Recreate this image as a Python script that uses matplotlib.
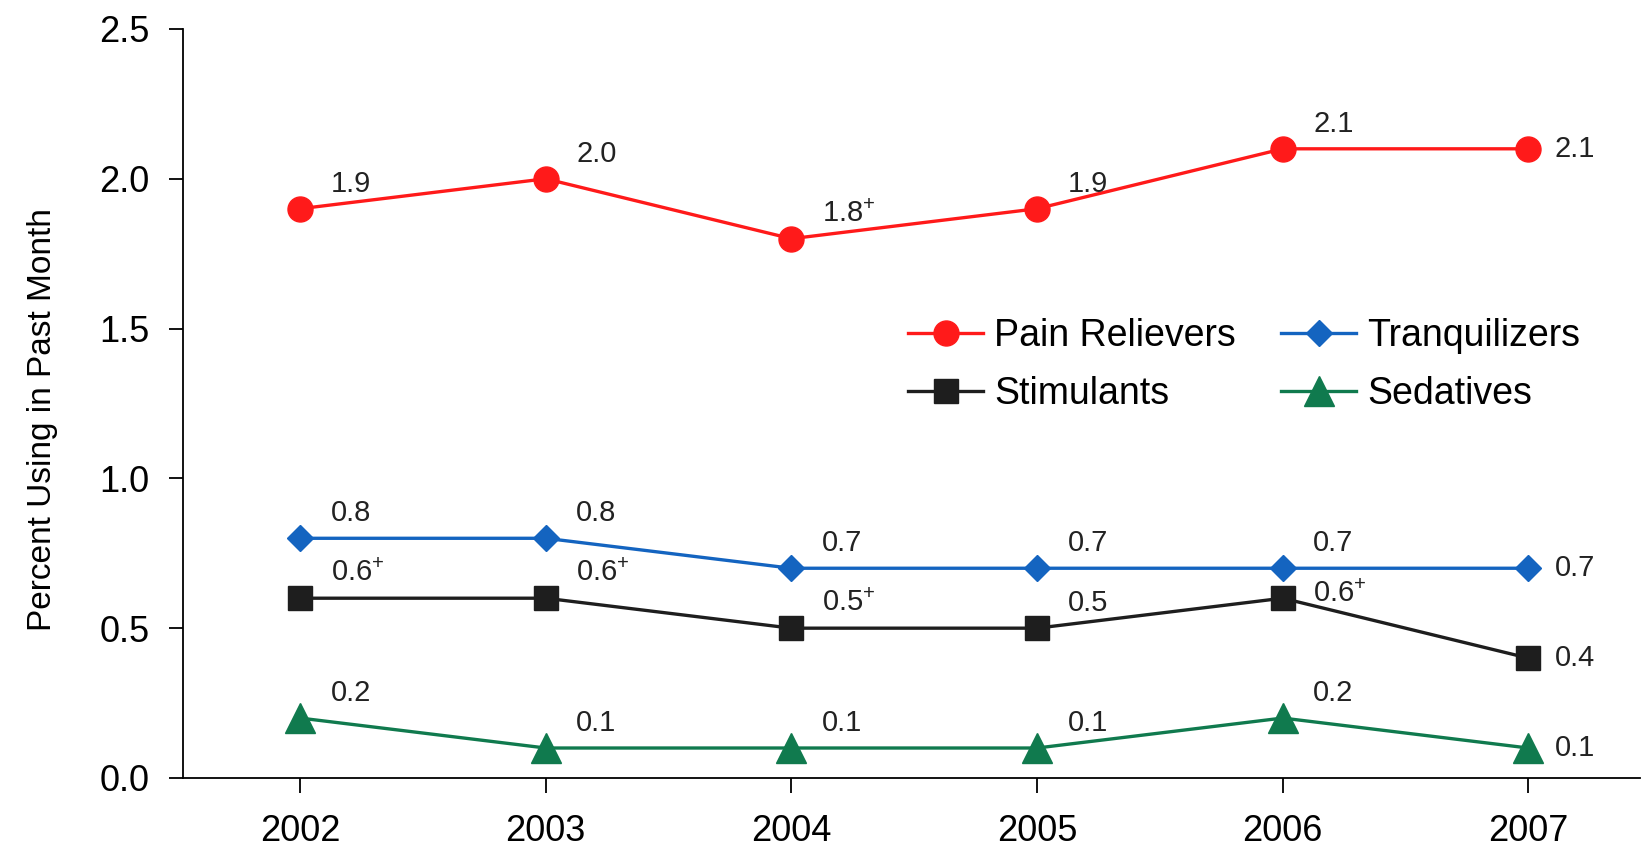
import matplotlib
matplotlib.use("Agg")
import matplotlib.pyplot as plt

plt.rcParams['font.family'] = ['Liberation Sans', 'DejaVu Sans']
plt.rcParams['mathtext.fontset'] = 'custom'
plt.rcParams['mathtext.rm'] = 'Liberation Sans'
plt.rcParams['mathtext.default'] = 'regular'

# data
years = [2002, 2003, 2004, 2005, 2006, 2007]
pain_relievers = [1.9, 2.0, 1.8, 1.9, 2.1, 2.1]
tranquilizers = [0.8, 0.8, 0.7, 0.7, 0.7, 0.7]
stimulants = [0.6, 0.6, 0.5, 0.5, 0.6, 0.4]
sedatives = [0.2, 0.1, 0.1, 0.1, 0.2, 0.1]

# "+" marks: difference from 2007 is significant
pain_sig = [False, False, True, False, False, False]
tranq_sig = [False, False, False, False, False, False]
stim_sig = [True, True, True, False, True, False]
sed_sig = [False, False, False, False, False, False]

series = [
    ("Pain Relievers", pain_relievers, pain_sig, "#ff1a1a", "o", 18),
    ("Stimulants", stimulants, stim_sig, "#1e1e1e", "s", 17),
    ("Tranquilizers", tranquilizers, tranq_sig, "#1464c0", "D", 13),
    ("Sedatives", sedatives, sed_sig, "#107a4e", "^", 21),
]

fig = plt.figure(figsize=(16.42, 8.47), dpi=100)
ax = fig.add_axes([0.1115, 0.0815, 0.8875, 0.8843])

for name, vals, sig, col, mk, ms in series:
    ax.plot(years, vals, color=col, lw=2.4, marker=mk, markersize=ms,
            markeredgecolor=col, label=name, zorder=3)
    for i, (x, v) in enumerate(zip(years, vals)):
        txt = f"{v:.1f}" + ("$^{+}$" if sig[i] else "")
        if i == len(years) - 1:
            off = (19, 0)
        elif name == "Stimulants" and i == 4:
            off = (22, 3)
        else:
            off = (22, 18)
        ax.annotate(txt, (x, v), xytext=off, textcoords="offset points",
                    ha="left", va="center", fontsize=21, color="#222222")

ax.set_xlim(2001.524, 2007.456)
ax.set_ylim(0, 2.5)
ax.set_xticks(years)
ax.set_yticks([0.0, 0.5, 1.0, 1.5, 2.0, 2.5])
ax.set_yticklabels(["0.0", "0.5", "1.0", "1.5", "2.0", "2.5"])
ax.spines["top"].set_visible(False)
ax.spines["right"].set_visible(False)
for s in ("left", "bottom"):
    ax.spines[s].set_linewidth(1.3)
ax.tick_params(axis="y", length=10, width=1.3, pad=14, labelsize=26)
ax.tick_params(axis="x", length=11, width=1.3, pad=15, labelsize=26)

fig.text(43 / 1642, 0.505, "Percent Using in Past Month", rotation=90,
         ha="center", va="center", fontsize=24)

handles, labels = ax.get_legend_handles_labels()
ax.legend(handles, labels, ncol=2, frameon=False, fontsize=27,
          loc="upper left", bbox_to_anchor=(908 / 1642, 1 - 318 / 847),
          bbox_transform=fig.transFigure, borderpad=0, borderaxespad=0,
          handlelength=2.0, handletextpad=0.3, columnspacing=1.2,
          labelspacing=0.6)

fig.savefig("out.png", dpi=100)
